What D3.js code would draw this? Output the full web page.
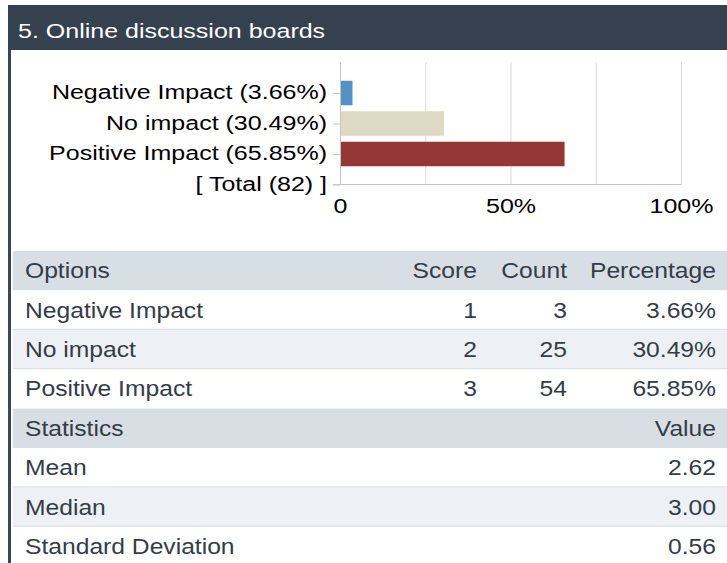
<!DOCTYPE html>
<html>
<head>
<meta charset="utf-8">
<script src="https://cdnjs.cloudflare.com/ajax/libs/d3/7.8.5/d3.min.js"></script>
<style>
  html, body { margin: 0; padding: 0; background: #fff; }
  svg { display: block; }
</style>
</head>
<body>
<svg id="chart" width="727" height="563"></svg>
<script>
const title = "5. Online discussion boards";
const options = ["Negative Impact", "No impact", "Positive Impact"];
const scores = [1, 2, 3];
const counts = [3, 25, 54];
const percents = [3.66, 30.49, 65.85];
const total = 82;
const barColors = ["#5390c3", "#ddd9c4", "#953735"];
const xTicks = [0, 0.5, 1];
const gridTicks = [0.25, 0.5, 0.75, 1];
const statNames = ["Mean", "Median", "Standard Deviation"];
const statValues = ["2.62", "3.00", "0.56"];

const svg = d3.select("#chart");
const font = "'Liberation Sans', Arial, sans-serif";

// stretch text horizontally, the reference is wider than plain Arial
function stretch(sel, sx) {
  sel.each(function () {
    const w = this.getComputedTextLength();
    this.setAttribute("textLength", w * sx);
    this.setAttribute("lengthAdjust", "spacingAndGlyphs");
  });
}

// header bar + left border
svg.append("rect").attr("x", 8).attr("y", 5).attr("width", 719).attr("height", 45).attr("fill", "#364150");
svg.append("rect").attr("x", 8).attr("y", 50).attr("width", 3).attr("height", 513).attr("fill", "#3b4757");
svg.append("text").attr("x", 18).attr("y", 38).attr("fill", "#fff")
  .style("font-family", font).style("font-size", "20px").text(title)
  .call(stretch, 1.25);

// chart
const labels = options.map((o, i) => o + " (" + percents[i].toFixed(2) + "%)");
const cats = labels.concat(["[ Total (" + total + ") ]"]);
const x = d3.scaleLinear().domain([0, 1]).range([340, 681]);
const y = d3.scalePoint().domain(cats).range([93, 184.5]);
const plotTop = 62, plotBottom = 185;

const grid = svg.append("g").attr("transform", "translate(0," + plotBottom + ")")
  .call(d3.axisBottom(x).tickValues(gridTicks).tickSize(-(plotBottom - plotTop)).tickFormat(""));
grid.select(".domain").remove();
grid.selectAll("line").attr("stroke", "#d9d9d9");

svg.append("line").attr("x1", 333).attr("x2", x(1)).attr("y1", plotBottom - 0.5).attr("y2", plotBottom - 0.5)
  .attr("stroke", "#c6c6c6");

svg.selectAll("rect.bar").data(percents).enter().append("rect")
  .attr("class", "bar")
  .attr("x", x(0))
  .attr("y", (d, i) => y(labels[i]) - 12.25)
  .attr("width", d => x(d / 100) - x(0))
  .attr("height", 24.5)
  .attr("fill", (d, i) => barColors[i]);

const yAxis = svg.append("g").attr("transform", "translate(" + x(0) + ",0)")
  .call(d3.axisLeft(y).tickSize(7).tickPadding(6));
yAxis.select(".domain").remove();
yAxis.selectAll("line").attr("stroke", "#c6c6c6");
yAxis.selectAll("text").attr("fill", "#000").attr("dy", "0.28em")
  .style("font-family", font).style("font-size", "20px")
  .call(stretch, 1.25);
svg.append("line").attr("x1", x(0) + 0.5).attr("x2", x(0) + 0.5).attr("y1", plotTop).attr("y2", plotBottom)
  .attr("stroke", "#c6c6c6");

const xAxis = svg.append("g").attr("transform", "translate(0,213)")
  .call(d3.axisBottom(x).tickValues(xTicks).tickSize(0).tickPadding(0)
    .tickFormat(d => d === 0 ? "0" : d3.format(".0%")(d)));
xAxis.select(".domain").remove();
xAxis.selectAll("text").attr("fill", "#000").attr("dy", 0)
  .style("font-family", font).style("font-size", "20px")
  .call(stretch, 1.25);

// table
const rowH = 39.4, tTop = 251, tX = 13;
const rows = [];
rows.push({ kind: "head", cells: ["Options", "Score", "Count", "Percentage"] });
options.forEach((o, i) => rows.push({ kind: "data", cells: [o, String(scores[i]), String(counts[i]), percents[i].toFixed(2) + "%"] }));
rows.push({ kind: "head", cells: ["Statistics", "", "", "Value"] });
statNames.forEach((s, i) => rows.push({ kind: "data", cells: [s, "", "", statValues[i]] }));

const colRight = [null, 477, 567, 716];
let alt = 0;
rows.forEach((r, i) => {
  const ry = tTop + i * rowH;
  let fill;
  if (r.kind === "head") { fill = "#d7dfe4"; alt = 0; }
  else { fill = alt % 2 === 1 ? "#edf1f5" : "#ffffff"; alt++; }
  svg.append("rect").attr("x", tX).attr("y", ry).attr("width", 727 - tX).attr("height", rowH).attr("fill", fill);
  if (r.kind === "data" && i + 1 < rows.length && rows[i + 1].kind === "data") {
    svg.append("rect").attr("x", tX).attr("y", ry + rowH - 1).attr("width", 727 - tX).attr("height", 2).attr("fill", "#d6dde3");
  }
  r.cells.forEach((c, j) => {
    if (!c) return;
    svg.append("text")
      .attr("x", j === 0 ? 25 : colRight[j])
      .attr("y", ry + rowH / 2 + 7.5)
      .attr("text-anchor", j === 0 ? "start" : "end")
      .attr("fill", "#343c48")
      .style("font-family", font).style("font-size", "22px")
      .text(c)
      .call(stretch, 1.12);
  });
});
</script>
</body>
</html>
